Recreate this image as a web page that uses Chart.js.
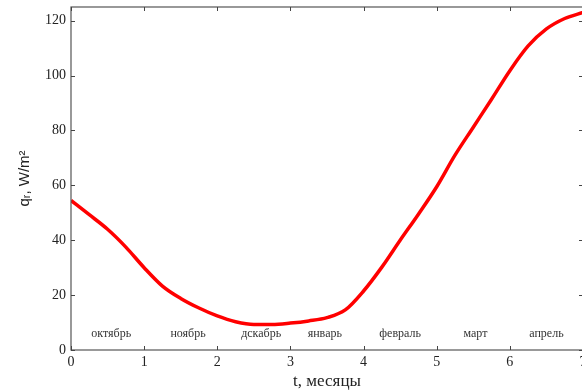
<!DOCTYPE html>
<html>
<head>
<meta charset="utf-8">
<script src="https://cdn.jsdelivr.net/npm/chart.js@4"></script>
<style>
  html, body { margin: 0; padding: 0; background: #fff; overflow: hidden; }
  #wrap { width: 590px; height: 392px; }
</style>
</head>
<body>
<div id="wrap"><canvas id="chart"></canvas></div>
<script>
// Radiation flux over the season, step of a quarter month
const tMonths = [0, 0.25, 0.5, 0.75, 1, 1.25, 1.5, 1.75, 2, 2.25, 2.5, 2.75, 3, 3.25,
                 3.5, 3.75, 4, 4.25, 4.5, 4.75, 5, 5.25, 5.5, 5.75, 6, 6.25, 6.5, 6.75, 7];
const qFlux = [54.5, 49.3, 44, 37.5, 30, 23.3, 18.8, 15.3, 12.4, 10.3, 9.3, 9.3, 9.8, 10.6,
               11.8, 14.6, 21.5, 30.2, 40, 49.5, 59.5, 71, 81.2, 91.4, 101.8, 110.8, 117, 120.8, 123];

const yTicks = [0, 20, 40, 60, 80, 100, 120];
const xTicks = [0, 1, 2, 3, 4, 5, 6, 7];

// month names written inside the plot, centred between ticks
const monthNames = ['октябрь', 'ноябрь', 'дскабрь', 'январь', 'февраль', 'март', 'апрель'];
const monthPos = [0.55, 1.6, 2.6, 3.47, 4.5, 5.53, 6.5];
const monthLevel = 6;

const serif = '"Liberation Serif", "Times New Roman", serif';

// frame + inward ticks on all four sides, and month captions
const framePlugin = {
  id: 'frame',
  afterDatasetsDraw(chart) {
    const { ctx, chartArea: a, scales: { x, y } } = chart;
    ctx.save();
    ctx.strokeStyle = '#555';
    ctx.lineWidth = 1.2;
    ctx.strokeRect(a.left, a.top, a.right - a.left, a.bottom - a.top);
    ctx.strokeStyle = '#444';
    ctx.lineWidth = 1;
    const len = 4;
    ctx.beginPath();
    xTicks.forEach(v => {
      const px = Math.round(x.getPixelForValue(v)) + 0.5;
      ctx.moveTo(px, a.bottom); ctx.lineTo(px, a.bottom - len);
      ctx.moveTo(px, a.top); ctx.lineTo(px, a.top + len);
    });
    yTicks.forEach(v => {
      const py = Math.round(y.getPixelForValue(v)) + 0.5;
      ctx.moveTo(a.left, py); ctx.lineTo(a.left + len, py);
      ctx.moveTo(a.right, py); ctx.lineTo(a.right - len, py);
    });
    ctx.stroke();

    ctx.fillStyle = '#333';
    ctx.font = '12px ' + serif;
    ctx.textAlign = 'center';
    ctx.textBaseline = 'middle';
    monthNames.forEach((m, i) => {
      ctx.fillText(m, x.getPixelForValue(monthPos[i]), y.getPixelForValue(monthLevel));
    });
    ctx.restore();
  }
};

// keep the plot edges fixed, no extra room for end labels
function noEdgePadding(s) {
  s.paddingTop = 0;
  s.paddingBottom = 0;
  s.paddingLeft = 0;
  s.paddingRight = 0;
}

new Chart(document.getElementById('chart'), {
  type: 'line',
  data: {
    datasets: [{
      data: tMonths.map((t, i) => ({ x: t, y: qFlux[i] })),
      borderColor: '#ff0000',
      borderWidth: 3.5,
      pointRadius: 0,
      cubicInterpolationMode: 'monotone',
      fill: false
    }]
  },
  options: {
    responsive: true,
    maintainAspectRatio: false,
    animation: false,
    layout: { padding: { top: 7, right: 7, left: 0, bottom: 0 } },
    plugins: { legend: { display: false }, tooltip: { enabled: false } },
    scales: {
      x: {
        type: 'linear',
        min: 0,
        max: 7,
        afterBuildTicks: s => { s.ticks = xTicks.map(v => ({ value: v })); },
        afterFit: s => { s.height = 42; noEdgePadding(s); },
        grid: { display: false, drawTicks: false },
        border: { display: false },
        ticks: { color: '#222', padding: 4, font: { family: serif, size: 14 } },
        title: {
          display: true,
          text: 't, месяцы',
          color: '#222',
          padding: { top: 0, bottom: 0 },
          font: { family: serif, size: 17 }
        }
      },
      y: {
        min: 0,
        max: 125,
        afterBuildTicks: s => { s.ticks = yTicks.map(v => ({ value: v })); },
        afterFit: s => { s.width = 71; noEdgePadding(s); },
        grid: { display: false, drawTicks: false },
        border: { display: false },
        ticks: { color: '#222', padding: 5, font: { family: serif, size: 14 } },
        title: {
          display: true,
          text: 'qᵣ, W/m²',
          color: '#222',
          padding: { top: 16, bottom: 0 },
          font: { family: '"Liberation Sans", Arial, sans-serif', size: 15 }
        }
      }
    }
  },
  plugins: [framePlugin]
});
</script>
</body>
</html>
